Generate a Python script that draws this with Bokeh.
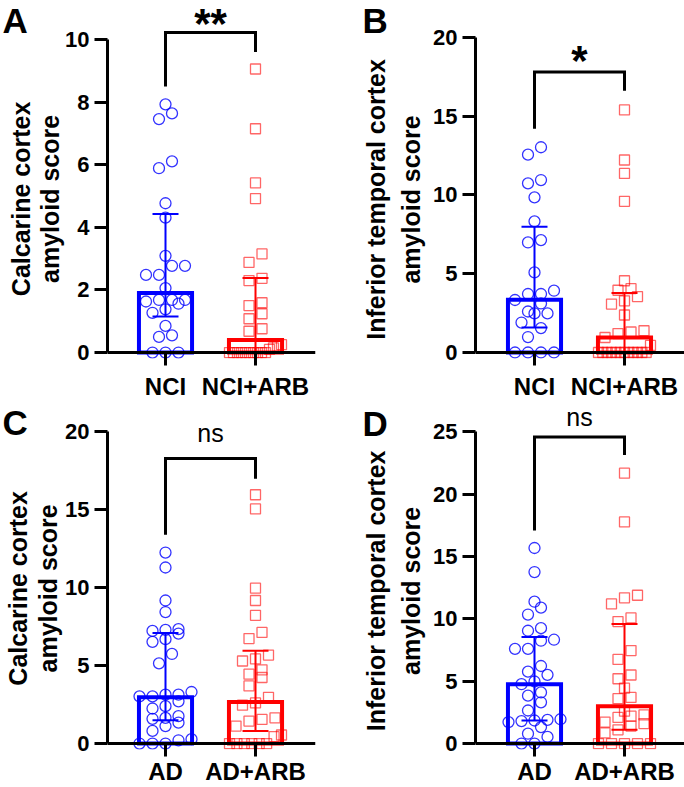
import numpy as np
from bokeh.plotting import figure
from bokeh.models import Range1d, FixedTicker, Label, ColumnDataSource, Span
from bokeh.layouts import gridplot
from bokeh.embed import file_html
from bokeh.resources import INLINE
from bokeh.core.properties import value

FONT = "Liberation Sans"
BLUE = "#0000FF"
RED = "#FF0000"

# ---------------- data ----------------
A_categories = ["NCI", "NCI+ARB"]
A_ctrl = [7.93, 7.64, 7.46, 6.11, 5.89, 4.77, 4.31, 3.09, 2.77, 2.77, 2.48, 2.48, 2.06,
          1.68, 1.68, 1.68, 1.63, 1.56, 1.38, 1.27, 0.85, 0.55, 0.50, 0.0, 0.0, 0.0]
A_arb = [9.06, 7.15, 5.42, 4.92, 3.15, 2.88, 2.37, 2.30, 1.59, 1.50, 1.24, 1.08, 0.76, 0.68,
         0.25, 0.20, 0.15, 0.10, 0.0, 0.0, 0.0, 0.0, 0.0, 0.0, 0.0, 0.0, 0.0, 0.0]
A_median = [1.90, 0.40]
A_q1 = [1.15, 0.0]
A_q3 = [4.43, 2.38]
A_yticks = [0, 2, 4, 6, 8, 10]
A_ylabel = ["Calcarine cortex", "amyloid score"]
A_sig = "**"
A_bracket = [8.5, 10.23, 9.6]

B_categories = ["NCI", "NCI+ARB"]
B_ctrl = [13.02, 12.55, 10.94, 10.73, 9.84, 8.32, 7.13, 6.98, 5.08, 3.92, 3.71, 3.71,
          3.33, 3.11, 2.60, 2.48, 2.48, 1.90, 1.55, 0.98, 0.0, 0.0, 0.0, 0.0]
B_arb = [15.39, 12.21, 11.36, 9.59, 4.55, 4.05, 3.95, 3.55, 3.28, 3.07, 2.38, 1.38, 1.30,
         1.20, 0.95, 0.45, 0.0, 0.0, 0.0, 0.0, 0.0, 0.0, 0.0, 0.0, 0.0, 0.0, 0.0, 0.0]
B_median = [3.34, 0.95]
B_q1 = [1.59, 0.0]
B_q3 = [7.98, 3.77]
B_yticks = [0, 5, 10, 15, 20]
B_ylabel = ["Inferior temporal cortex", "amyloid score"]
B_sig = "*"
B_bracket = [14.2, 17.8, 16.6]

C_categories = ["AD", "AD+ARB"]
C_ctrl = [12.26, 11.30, 9.18, 8.44, 7.34, 7.30, 7.23, 7.06, 6.70, 6.53, 5.75, 5.15, 3.31,
          3.14, 3.14, 3.03, 3.03, 2.71, 2.40, 2.25, 1.76, 1.65, 1.59, 1.34, 1.12, 0.81,
          0.28, 0.21, 0.0, 0.0, 0.0]
C_arb = [15.97, 15.06, 9.97, 9.18, 8.23, 7.13, 6.74, 5.68, 5.43, 5.30, 4.73, 4.45, 4.24,
         3.70, 2.97, 2.61, 2.46, 1.65, 1.55, 1.44, 1.12, 0.55, 0.45, 0.0, 0.0, 0.0, 0.0,
         0.0, 0.0]
C_median = [2.97, 2.67]
C_q1 = [1.50, 0.81]
C_q3 = [7.10, 5.96]
C_yticks = [0, 5, 10, 15, 20]
C_ylabel = ["Calcarine cortex", "amyloid score"]
C_sig = "ns"
C_bracket = [13.4, 18.3, 17.0]

D_categories = ["AD", "AD+ARB"]
D_ctrl = [15.69, 13.76, 11.38, 10.90, 10.35, 9.26, 9.05, 8.33, 8.25, 7.6, 7.6, 6.22, 5.77,
          5.51, 4.98, 4.76, 4.10, 3.84, 3.31, 2.65, 1.95, 1.90, 1.85, 1.80, 1.72, 1.32,
          0.79, 0.53, 0.0, 0.0]
D_arb = [21.69, 17.78, 11.90, 11.69, 11.20, 10.08, 9.79, 7.46, 6.75, 5.50, 5.20, 4.44,
         3.70, 3.60, 2.60, 2.30, 2.20, 2.10, 1.72, 1.60, 1.40, 1.10, 0.85, 0.0, 0.0, 0.0,
         0.0, 0.0]
D_median = [4.76, 2.99]
D_q1 = [1.85, 1.11]
D_q3 = [8.55, 9.60]
D_yticks = [0, 5, 10, 15, 20, 25]
D_ylabel = ["Inferior temporal cortex", "amyloid score"]
D_sig = "ns"
D_bracket = [17.1, 24.6, 23.15]

# ---------------- layout (page pixels) ----------------
PAD = 6          # frame extends this far below the zero line
XPPU = 90.0      # px per category unit
LETTER_PX = 35
GEOM = {
    "A": dict(fx=0, fy=0, w=342, h=402, fl=107, fr=315, zero=354, ytt=39.3, c1=165,
              xstand=7, letter=(2, 32), letter_side="right",
              ylab_x=(20, 49.5), ylab_y=199.5,
              sig_py=23.5, sig_size=42, sig_style="bold"),
    "B": dict(fx=342, fy=0, w=342, h=402, fl=475, fr=684, zero=352, ytt=36.7, c1=534,
              xstand=7, letter=(362, 32), letter_side="left",
              ylab_x=(375, 410.5), ylab_y=199,
              sig_py=60, sig_size=42, sig_style="bold"),
    "C": dict(fx=0, fy=402, w=342, h=385, fl=107, fr=315, zero=746, ytt=431.7, c1=165,
              xstand=1, letter=(2, 434), letter_side="right",
              ylab_x=(17, 47), ylab_y=589.5,
              sig_py=433, sig_size=25, sig_style="normal"),
    "D": dict(fx=342, fy=402, w=342, h=385, fl=475, fr=684, zero=746, ytt=431.7, c1=534,
              xstand=1, letter=(362, 435), letter_side="left",
              ylab_x=(375, 410.5), ylab_y=592,
              sig_py=416.25, sig_size=25, sig_style="normal"),
}


def swarm(vals, ppu, diam=10.5, step=13.0, maxhalf=26.0):
    """Prism-like row layout: points whose pixel heights are within a marker
    diameter share a row and are spread symmetrically around the category."""
    v = np.asarray(vals, dtype=float)
    order = np.argsort(v, kind="stable")
    rows, cur = [], [order[0]]
    for idx in order[1:]:
        if (v[idx] - v[cur[0]]) * ppu < diam * 0.9:
            cur.append(idx)
        else:
            rows.append(cur)
            cur = [idx]
    rows.append(cur)
    offs = np.zeros(len(v))
    for r in rows:
        n = len(r)
        s = step if n == 1 else min(step, 2 * maxhalf / (n - 1))
        for i, idx in enumerate(r):
            offs[idx] = (i - (n - 1) / 2) * s
    return offs / XPPU


def build(key, cats, ctrl, arb, med, q1, q3, yticks, ylabel, sig, bracket):
    g = GEOM[key]
    fx, fy, w, h = g["fx"], g["fy"], g["w"], g["h"]
    fl, fr, zero, ytt, c1 = g["fl"], g["fr"], g["zero"], g["ytt"], g["c1"]
    ymax = yticks[-1]
    ppu = (zero - ytt) / ymax
    x0 = 1 - (c1 - fl) / XPPU
    x1 = x0 + (fr - fl) / XPPU
    y0 = -PAD / ppu
    y1 = (zero - fy) / ppu

    def ax(px):   # page x -> data x
        return x0 + (px - fl) / XPPU

    def ay(py):   # page y -> data y
        return (zero - py) / ppu

    p = figure(width=w, height=h, x_range=Range1d(x0, x1), y_range=Range1d(y0, y1),
               output_backend="svg", toolbar_location=None,
               min_border_left=int(fl - fx), min_border_right=int(fx + w - fr),
               min_border_top=0, min_border_bottom=int(round(fy + h - zero - PAD)))
    p.outline_line_color = None
    p.xgrid.visible = False
    p.ygrid.visible = False
    p.background_fill_color = "white"
    p.border_fill_color = "white"

    ya = p.yaxis[0]
    ya.ticker = FixedTicker(ticks=yticks)
    ya.bounds = (0, ymax)
    ya.axis_line_width = 3
    ya.axis_line_color = "black"
    ya.major_tick_line_width = 3
    ya.major_tick_out = 13
    ya.major_tick_in = 0
    ya.minor_tick_line_color = None
    ya.major_label_text_font = FONT
    ya.major_label_text_font_size = "22px"
    ya.major_label_text_font_style = "bold"
    ya.major_label_text_color = "black"
    ya.major_label_standoff = 5

    xa = p.xaxis[0]
    xa.ticker = FixedTicker(ticks=[1, 2])
    xa.major_label_overrides = {1: cats[0], 2: cats[1]}
    xa.axis_line_color = None
    xa.major_tick_line_width = 3
    xa.major_tick_line_color = "black"
    xa.major_tick_in = PAD
    xa.major_tick_out = 13 - PAD
    xa.minor_tick_line_color = None
    xa.major_label_text_font = FONT
    xa.major_label_text_font_size = "24px"
    xa.major_label_text_font_style = "bold"
    xa.major_label_text_color = "black"
    xa.major_label_standoff = g["xstand"]
    p.add_layout(Span(location=0, dimension="width", line_color="black", line_width=3))

    # individual points
    for k, vals in enumerate([ctrl, arb]):
        offs = swarm(vals, ppu)
        src = ColumnDataSource(dict(x=(k + 1) + offs, y=vals))
        if k == 0:
            p.scatter("x", "y", source=src, marker="circle", size=11, fill_color=None,
                      line_color=BLUE, line_alpha=0.8, line_width=1.3)
        else:
            p.scatter("x", "y", source=src, marker="square", size=10, fill_color=None,
                      line_color=RED, line_alpha=0.6, line_width=1.3)

    xs = np.array([1.0, 2.0])
    colors = [BLUE, RED]
    # median bars
    p.vbar(x=xs, top=med, bottom=0, width=0.59, fill_color=None, line_color=colors,
           line_width=4, line_join="miter")
    # interquartile error bars
    cap = 13 / XPPU
    p.segment(x0=xs, y0=q1, x1=xs, y1=q3, line_color=colors, line_width=2)
    p.segment(x0=xs - cap, y0=q3, x1=xs + cap, y1=q3, line_color=colors, line_width=2)
    p.segment(x0=xs - cap, y0=q1, x1=xs + cap, y1=q1, line_color=colors, line_width=2)

    # significance bracket
    p.line(x=[1, 1, 2, 2], y=[bracket[0], bracket[1], bracket[1], bracket[2]],
           line_color="black", line_width=3, line_join="miter")
    p.text(x=[1.5], y=[ay(g["sig_py"])], text=[sig], text_font=value(FONT),
           text_font_size=f'{g["sig_size"]}px', text_font_style=g["sig_style"],
           text_align="center", text_baseline="alphabetic", text_color="black")

    # y-axis title (two centred lines), placed in the left panel
    for line, lx in zip(ylabel, g["ylab_x"]):
        p.add_layout(Label(x=ax(lx), y=ay(g["ylab_y"]), text=line, angle=np.pi / 2,
                           text_font=FONT, text_font_size="25px", text_font_style="bold",
                           text_align="center", text_baseline="middle",
                           text_color="black"), "left")

    # panel letter (placed in a side panel so that it is not clipped to the frame)
    lx_abs, ly_abs = g["letter"]
    p.add_layout(Label(x=ax(lx_abs), y=ay(ly_abs - 0.35 * LETTER_PX), text=key,
                       text_font=FONT, text_font_size=f"{LETTER_PX}px",
                       text_font_style="bold", text_align="left",
                       text_baseline="alphabetic", text_color="black"),
                 g["letter_side"])
    return p


pA = build("A", A_categories, A_ctrl, A_arb, A_median, A_q1, A_q3, A_yticks, A_ylabel, A_sig, A_bracket)
pB = build("B", B_categories, B_ctrl, B_arb, B_median, B_q1, B_q3, B_yticks, B_ylabel, B_sig, B_bracket)
pC = build("C", C_categories, C_ctrl, C_arb, C_median, C_q1, C_q3, C_yticks, C_ylabel, C_sig, C_bracket)
pD = build("D", D_categories, D_ctrl, D_arb, D_median, D_q1, D_q3, D_yticks, D_ylabel, D_sig, D_bracket)

grid = gridplot([[pA, pB], [pC, pD]], toolbar_location=None)

open("out.html", "w").write(file_html(grid, INLINE))
